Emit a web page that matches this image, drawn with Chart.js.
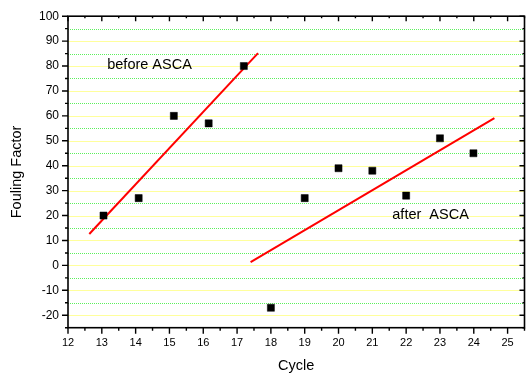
<!DOCTYPE html>
<html lang="en">
<head>
<meta charset="UTF-8">
<title>Fouling Factor vs Cycle</title>
<style>
  html, body { margin: 0; padding: 0; background: #fff; }
  #wrap { width: 530px; height: 376px; }
</style>
</head>
<body>
<div id="wrap"><canvas id="chart" width="530" height="376"></canvas></div>
<script src="https://cdn.jsdelivr.net/npm/chart.js@4"></script>
<script>
// measured points
const cycles = [13.05, 14.09, 15.13, 16.16, 17.2, 18.0, 19.0, 20.0, 21.0, 22.0, 23.0, 23.99];
const fouling = [20, 27, 60, 57, 80, -17, 27, 39, 38, 28, 51, 45];

// fitted lines (end points)
const beforeFitX = [12.63, 17.62];
const beforeFitY = [12.6, 85.2];
const afterFitX = [17.4, 24.61];
const afterFitY = [1.3, 59.1];

const xTicks = [12, 13, 14, 15, 16, 17, 18, 19, 20, 21, 22, 23, 24, 25];
const yTicks = [-20, -10, 0, 10, 20, 30, 40, 50, 60, 70, 80, 90, 100];

const FONT = "'Liberation Sans', Arial, sans-serif";

const points = cycles.map((c, i) => ({ x: c, y: fouling[i] }));
const toXY = (xs, ys) => xs.map((x, i) => ({ x: x, y: ys[i] }));

const frame = {
  id: 'frame',
  beforeDatasetsDraw(chart) {
    const { ctx, chartArea: a, scales: { y } } = chart;
    ctx.save();
    ctx.lineWidth = 1;
    for (let v = -20; v < 100; v += 5) {
      const py = Math.round(y.getPixelForValue(v)) + 0.5;
      if (v % 10 === 0) {
        ctx.strokeStyle = '#ffff9c';
        ctx.setLineDash([]);
      } else {
        ctx.strokeStyle = '#5cf05c';
        ctx.setLineDash([1, 1]);
      }
      ctx.beginPath();
      ctx.moveTo(a.left, py);
      ctx.lineTo(a.right, py);
      ctx.stroke();
    }
    ctx.restore();
  },
  afterDraw(chart) {
    const { ctx, chartArea: a, scales: { x, y } } = chart;
    ctx.save();
    ctx.strokeStyle = '#000';
    ctx.lineWidth = 1.6;
    ctx.strokeRect(a.left, a.top, a.right - a.left, a.bottom - a.top);

    ctx.lineWidth = 1.4;
    ctx.beginPath();
    // x ticks: bottom outward, top inward
    for (let v = 12; v <= 25.5; v += 0.5) {
      const px = x.getPixelForValue(v);
      const len = Number.isInteger(v) ? 6 : 3;
      ctx.moveTo(px, a.bottom); ctx.lineTo(px, a.bottom + len);
      ctx.moveTo(px, a.top); ctx.lineTo(px, a.top + len - 1);
    }
    // y ticks: left outward, right inward
    for (let v = -25; v <= 100; v += 5) {
      const py = y.getPixelForValue(v);
      const len = v % 10 === 0 ? 6 : 3;
      ctx.moveTo(a.left, py); ctx.lineTo(a.left - len, py);
      ctx.moveTo(a.right, py); ctx.lineTo(a.right - len + 1, py);
    }
    ctx.stroke();

    ctx.fillStyle = '#000';
    ctx.font = '14.5px ' + FONT;
    ctx.textAlign = 'left';
    ctx.textBaseline = 'middle';
    ctx.fillText('before ASCA', x.getPixelForValue(13.16), y.getPixelForValue(80.3));
    ctx.fillText('after  ASCA', x.getPixelForValue(21.59), y.getPixelForValue(20.1));
    ctx.restore();
  }
};

new Chart(document.getElementById('chart'), {
  type: 'scatter',
  data: {
    datasets: [
      {
        label: 'Fouling Factor',
        data: points,
        pointStyle: 'rect',
        pointRadius: 5,
        backgroundColor: '#000',
        borderColor: '#000',
        borderWidth: 0.5
      },
      {
        label: 'before ASCA',
        data: toXY(beforeFitX, beforeFitY),
        showLine: true,
        pointRadius: 0,
        borderColor: '#ff0000',
        borderWidth: 2
      },
      {
        label: 'after ASCA',
        data: toXY(afterFitX, afterFitY),
        showLine: true,
        pointRadius: 0,
        borderColor: '#ff0000',
        borderWidth: 2
      }
    ]
  },
  options: {
    responsive: false,
    animation: false,
    layout: { padding: { top: 12, right: 1.5, left: 0, bottom: 0 } },
    plugins: {
      legend: { display: false },
      tooltip: { enabled: false }
    },
    scales: {
      x: {
        type: 'linear',
        min: 12,
        max: 25.5,
        grid: { display: false, drawTicks: false },
        border: { display: false },
        afterBuildTicks: (s) => { s.ticks = xTicks.map(v => ({ value: v })); },
        afterFit: (s) => { s.height = 48.3; },
        ticks: {
          padding: 9,
          color: '#000',
          maxRotation: 0,
          font: { family: FONT, size: 11 }
        },
        title: {
          display: true,
          text: 'Cycle',
          color: '#000',
          padding: { top: 0, bottom: 1.3 },
          font: { family: FONT, size: 14.5 }
        }
      },
      y: {
        type: 'linear',
        min: -25,
        max: 100,
        grid: { display: false, drawTicks: false },
        border: { display: false },
        afterBuildTicks: (s) => { s.ticks = yTicks.map(v => ({ value: v })); },
        afterFit: (s) => { s.width = 68; },
        ticks: {
          padding: 9,
          color: '#000',
          font: { family: FONT, size: 12 }
        },
        title: {
          display: true,
          text: 'Fouling Factor',
          color: '#000',
          padding: { top: 8.3, bottom: 0 },
          font: { family: FONT, size: 14.5 }
        }
      }
    }
  },
  plugins: [frame]
});
</script>
</body>
</html>
